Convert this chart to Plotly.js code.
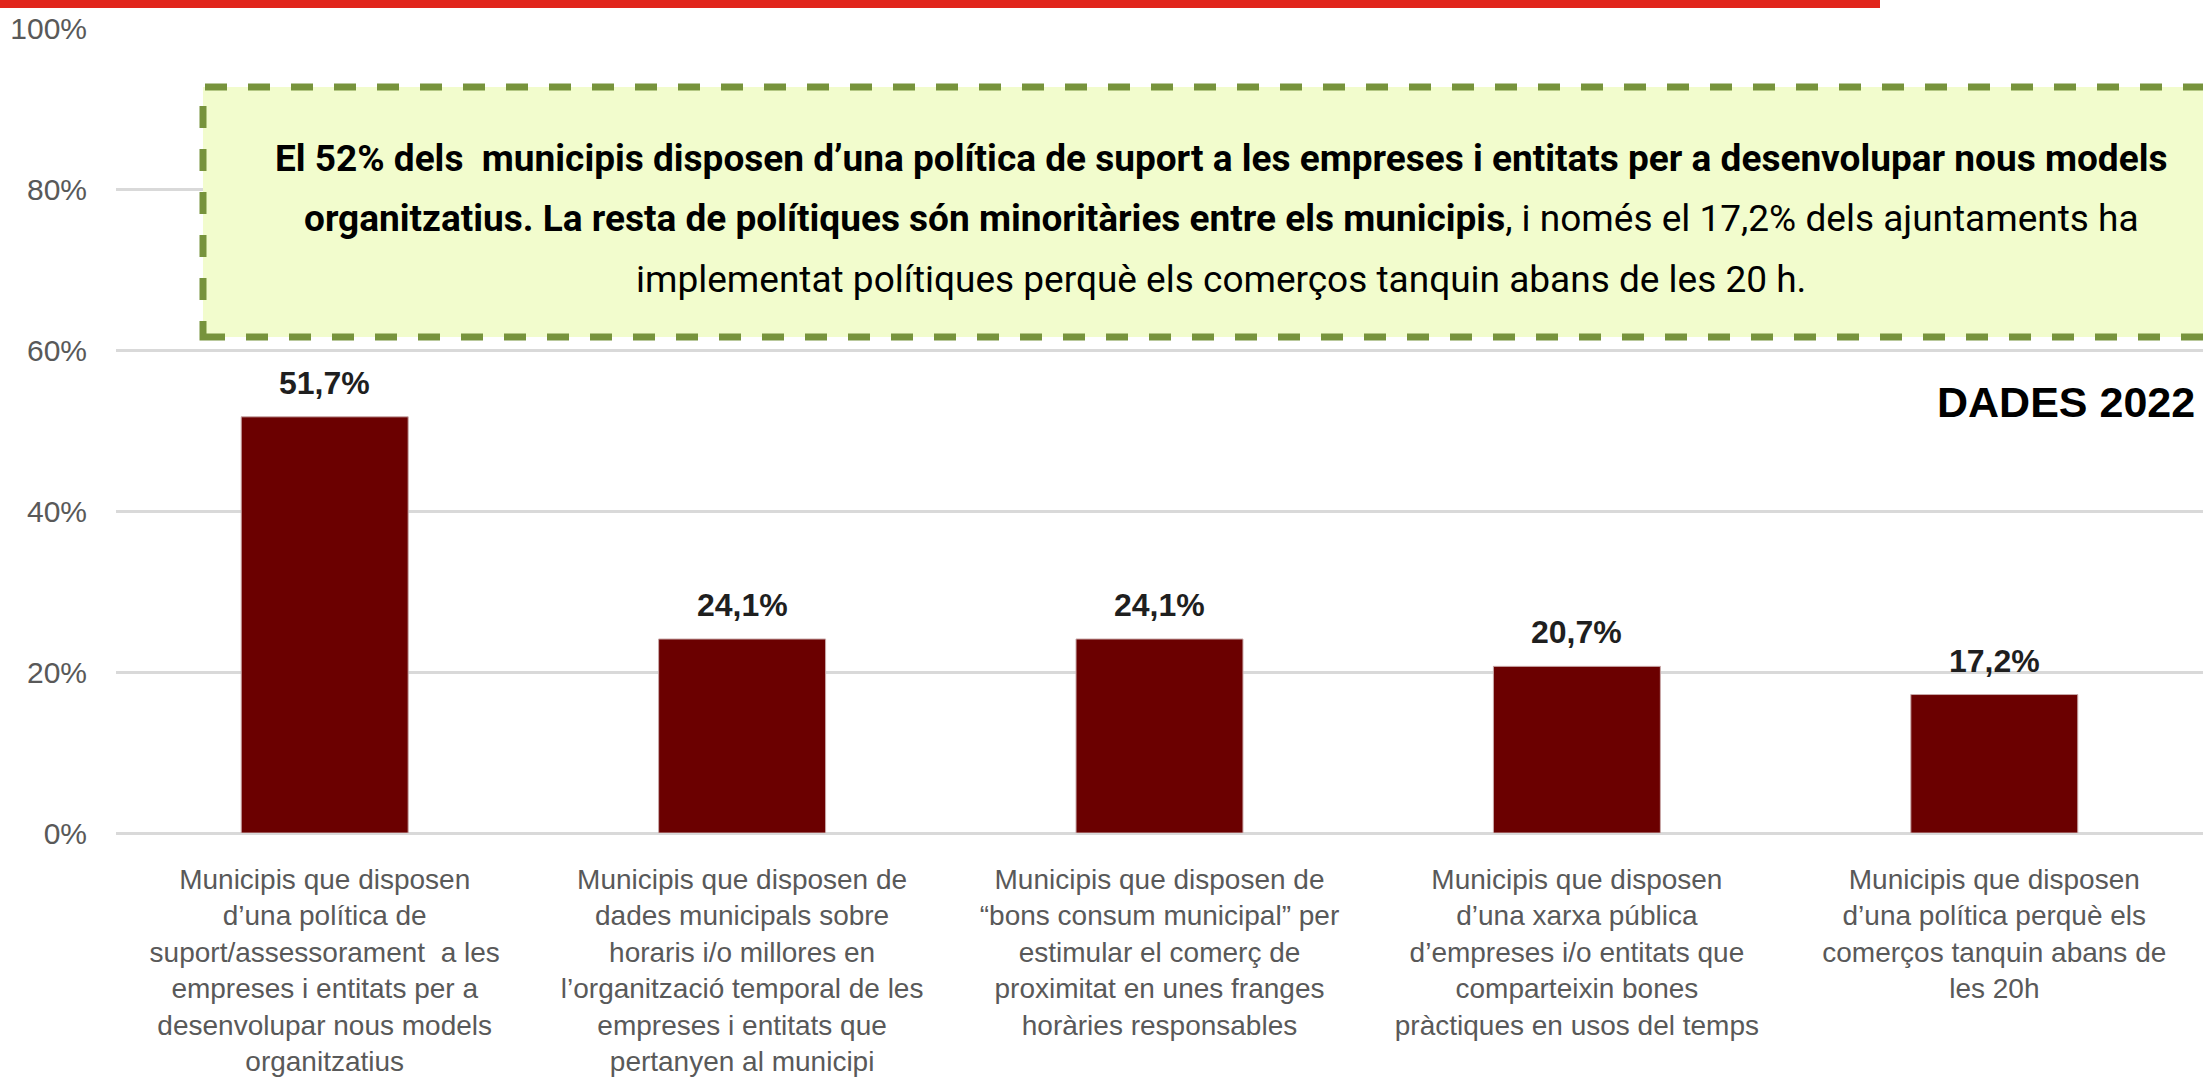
<!DOCTYPE html>
<html>
<head>
<meta charset="utf-8">
<script src="https://cdn.plot.ly/plotly-3.0.1.min.js"></script>
<style>
  html, body { margin: 0; padding: 0; background: #ffffff; }
  #chart { width: 2203px; height: 1081px; }
</style>
</head>
<body>
<div id="chart"></div>
<script>
// ---- DATA ----
const categories = [
  "Municipis que disposen<br>d’una política de<br>suport/assessorament  a les<br>empreses i entitats per a<br>desenvolupar nous models<br>organitzatius",
  "Municipis que disposen de<br>dades municipals sobre<br>horaris i/o millores en<br>l’organització temporal de les<br>empreses i entitats que<br>pertanyen al municipi",
  "Municipis que disposen de<br>“bons consum municipal” per<br>estimular el comerç de<br>proximitat en unes franges<br>horàries responsables",
  "Municipis que disposen<br>d’una xarxa pública<br>d’empreses i/o entitats que<br>comparteixin bones<br>pràctiques en usos del temps",
  "Municipis que disposen<br>d’una política perquè els<br>comerços tanquin abans de<br>les 20h"
];
const values = [51.7, 24.1, 24.1, 20.7, 17.2];
const yTickVals = [0, 20, 40, 60, 80, 100];
const yTickText = ["0%", "20%", "40%", "60%", "80%", "100%"];
const boxLines = [
  "<b>El 52% dels  municipis disposen d’una política de suport a les empreses i entitats per a desenvolupar nous models</b>",
  "<b>organitzatius. La resta de polítiques són minoritàries entre els municipis</b>, i només el 17,2% dels ajuntaments ha",
  "implementat polítiques perquè els comerços tanquin abans de les 20 h."
];
const stampText = "<b>DADES 2022</b>";

// ---- LAYOUT HELPERS ----
const W = 2203, H = 1081;
const mL = 116, mR = 0, mT = 28, mB = 248;
const plotW = W - mL - mR, plotH = H - mT - mB;
const px2paperX = p => (p - mL) / plotW;
const py2paperY = p => (H - mB - p) / plotH;

const sansFont = '"Liberation Sans", Arial, Helvetica, sans-serif';
const boxFont = 'Roboto, "Liberation Sans", sans-serif';

const trace = {
  type: 'bar',
  x: categories,
  y: values,
  marker: { color: '#6b0000', line: { color: '#c9a9a9', width: 1 } },
  hoverinfo: 'skip',
  cliponaxis: false
};

const valueAnnotations = values.map((v, i) => ({
  x: categories[i],
  y: v,
  xref: 'x', yref: 'y',
  text: '<b>' + v.toFixed(1).replace('.', ',') + '%</b>',
  showarrow: false,
  yanchor: 'bottom',
  yshift: 14,
  font: { family: sansFont, size: 32, color: '#1f1f1f' }
}));

const boxBaselines = [172, 232, 293];
const boxFontSize = 37;
const boxAnnotations = boxLines.map((t, i) => ({
  xref: 'paper', yref: 'paper',
  x: px2paperX(1221),
  y: py2paperY(boxBaselines[i] - 0.36 * boxFontSize),
  xanchor: 'center', yanchor: 'middle',
  text: t,
  showarrow: false,
  font: { family: boxFont, size: boxFontSize, color: '#000000' }
}));

const stampAnnotation = {
  xref: 'paper', yref: 'paper',
  x: px2paperX(2197), y: py2paperY(417 - 0.36 * 43),
  xanchor: 'right', yanchor: 'middle',
  text: stampText, showarrow: false,
  font: { family: '"Liberation Sans", Arial, sans-serif', size: 43, color: '#000000' }
};

const layout = {
  width: W, height: H,
  margin: { l: mL, r: mR, t: mT, b: mB, pad: 0 },
  paper_bgcolor: '#ffffff',
  plot_bgcolor: '#ffffff',
  showlegend: false,
  bargap: 0.6,
  xaxis: {
    type: 'category',
    range: [-0.5, 4.5],
    showgrid: false, zeroline: false, showline: false,
    ticks: '', ticklabelstandoff: 27,
    tickangle: 0,
    tickfont: { family: sansFont, size: 28, color: '#595959' },
    fixedrange: true
  },
  yaxis: {
    range: [0, 100],
    tickvals: yTickVals, ticktext: yTickText,
    showgrid: true, gridcolor: '#d9d9d9', gridwidth: 3,
    zeroline: true, zerolinecolor: '#d9d9d9', zerolinewidth: 3,
    showline: false, ticks: '', ticklabelstandoff: 28,
    tickfont: { family: sansFont, size: 30, color: '#595959' },
    fixedrange: true
  },
  shapes: [
    {
      type: 'rect', xref: 'paper', yref: 'paper', layer: 'above',
      x0: px2paperX(0), x1: px2paperX(1880),
      y0: py2paperY(8), y1: py2paperY(0),
      fillcolor: '#e1261c', line: { width: 0 }
    },
    {
      type: 'rect', xref: 'paper', yref: 'paper', layer: 'above',
      x0: px2paperX(203), x1: px2paperX(2240),
      y0: py2paperY(337), y1: py2paperY(87),
      fillcolor: '#f2fccd',
      line: { color: '#77933c', width: 7, dash: '22px,21px' }
    }
  ],
  annotations: valueAnnotations.concat(boxAnnotations, [stampAnnotation])
};

Plotly.newPlot('chart', [trace], layout, { displayModeBar: false, staticPlot: true });
</script>
</body>
</html>
